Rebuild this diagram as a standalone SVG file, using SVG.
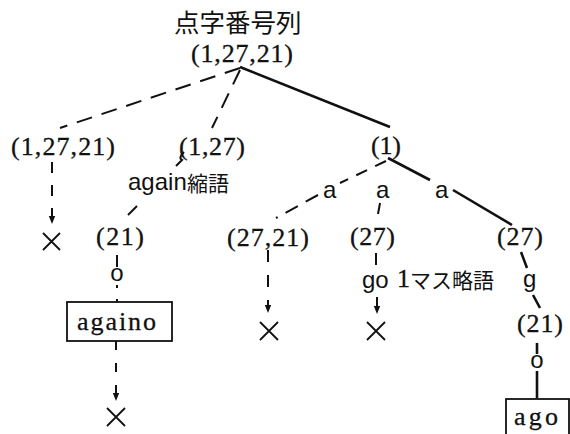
<svg xmlns="http://www.w3.org/2000/svg" width="570" height="434" viewBox="0 0 570 434">
<defs>
<marker id="ah" viewBox="0 0 8 8" refX="0" refY="4" markerWidth="8" markerHeight="8" markerUnits="userSpaceOnUse" orient="auto">
<path d="M0,0.8 L8,4 L0,7.2 z" fill="#111"/>
</marker>
</defs>
<style>
.num{font-family:"Liberation Serif","DejaVu Serif",serif;font-size:26px;fill:#111;stroke:#111;stroke-width:0.3}
.sans{font-family:"Liberation Sans",Arial,sans-serif;font-size:24px;fill:#111}
.cjk{font-family:"Noto Sans CJK JP","Noto Sans CJK SC",sans-serif;fill:#111}
.solid{fill:none;stroke:#111;stroke-width:2.6}
.dash{fill:none;stroke:#111;stroke-width:2;stroke-dasharray:16 10}
.thin{fill:none;stroke:#111;stroke-width:2}
.box{fill:#fff;stroke:#111;stroke-width:1.8}
.x{stroke:#111;stroke-width:1.8;fill:none}
</style>
<rect width="570" height="434" fill="#fff"/>
<g id="connectors">
<path class="dash" d="M240,68 L60,128"/>
<path class="dash" d="M240,70 L212,128"/>
<path class="solid" d="M240,67 L390,127"/>
<path class="thin" d="M184,152 Q178,158 182,160 L176,166"/>
<path class="thin" d="M52,162 V216" style="stroke-dasharray:11 12" marker-end="url(#ah)"/>
<path class="thin" d="M137,206 L128,215"/>
<path class="thin" d="M117,255 V267"/>
<path class="thin" d="M117,285 V302" style="stroke-dasharray:3 11"/>
<path class="thin" d="M116,341 V393" style="stroke-dasharray:9 13" marker-end="url(#ah)"/>
<path class="dash" d="M386,161 L340,183" style="stroke-dasharray:12 9"/>
<path class="solid" d="M388,158 L430,180"/>
<path class="dash" d="M318,195 L276,218" style="stroke-dasharray:14 9"/>
<path class="thin" d="M380,203 L378,214"/>
<path class="solid" d="M453,190 L512,225"/>
<path class="thin" d="M268,250 V305" style="stroke-dasharray:12 13" marker-end="url(#ah)"/>
<path class="thin" d="M376,253 V265"/>
<path class="thin" d="M377,297 V306" marker-end="url(#ah)"/>
<path class="solid" d="M521,252 L527,268"/>
<path class="solid" d="M533,295 L540,308"/>
<path class="solid" d="M537,343 V354"/>
<path class="solid" d="M537,371 V398"/>
</g>
<g id="root">
<text class="cjk" x="174" y="32" font-size="25.5">点字番号列</text>
<text class="num" x="191" y="62" textLength="102" lengthAdjust="spacing">(1,27,21)</text>
</g>
<g id="n-1-27-21">
<text class="num" x="11" y="155" textLength="104" lengthAdjust="spacing">(1,27,21)</text>
</g>
<g id="x1">
<path class="x" d="M43,233 L60,250 M60,233 L43,250"/>
</g>
<g id="n-1-27">
<text class="num" x="179" y="155" textLength="66" lengthAdjust="spacing">(1,27)</text>
</g>
<g id="again">
<text class="sans" x="128" y="190">again</text>
<text class="cjk" x="187" y="191" font-size="21">縮語</text>
</g>
<g id="n-21-left">
<text class="num" x="96" y="245" textLength="48" lengthAdjust="spacing">(21)</text>
</g>
<g id="o-left">
<text class="sans" x="117" y="281" text-anchor="middle" font-size="21">o</text>
</g>
<g id="againo">
<rect class="box" x="67" y="302" width="105" height="39"/>
<text class="num" x="77" y="330" textLength="79" lengthAdjust="spacing">againo</text>
</g>
<g id="x2">
<path class="x" d="M107,408 L125,426 M125,408 L107,426"/>
</g>
<g id="n-1">
<text class="num" x="371" y="154" textLength="30" lengthAdjust="spacing">(1)</text>
</g>
<g id="a-left"><text class="sans" x="323" y="198">a</text></g>
<g id="a-mid"><text class="sans" x="376" y="198">a</text></g>
<g id="a-right"><text class="sans" x="435" y="198">a</text></g>
<g id="n-27-21">
<text class="num" x="227" y="246" textLength="82" lengthAdjust="spacing">(27,21)</text>
</g>
<g id="x3">
<path class="x" d="M260,322 L278,340 M278,322 L260,340"/>
</g>
<g id="n-27-mid">
<text class="num" x="350" y="245" textLength="45" lengthAdjust="spacing">(27)</text>
</g>
<g id="go">
<text class="sans" x="362" y="288">go</text>
<text class="num" x="397" y="287" font-size="19">1</text>
<text class="cjk" x="410" y="288" font-size="21">マス略語</text>
</g>
<g id="x4">
<path class="x" d="M367,322 L385,340 M385,322 L367,340"/>
</g>
<g id="n-27-right">
<text class="num" x="497" y="245" textLength="46" lengthAdjust="spacing">(27)</text>
</g>
<g id="g-right"><text class="sans" x="523" y="287">g</text></g>
<g id="n-21-right">
<text class="num" x="517" y="332" textLength="46" lengthAdjust="spacing">(21)</text>
</g>
<g id="o-right">
<text class="sans" x="537" y="368" text-anchor="middle" font-size="21">o</text>
</g>
<g id="ago">
<rect class="box" x="506" y="399" width="63" height="40"/>
<text class="num" x="514" y="425" textLength="44" lengthAdjust="spacing">ago</text>
</g>
</svg>
